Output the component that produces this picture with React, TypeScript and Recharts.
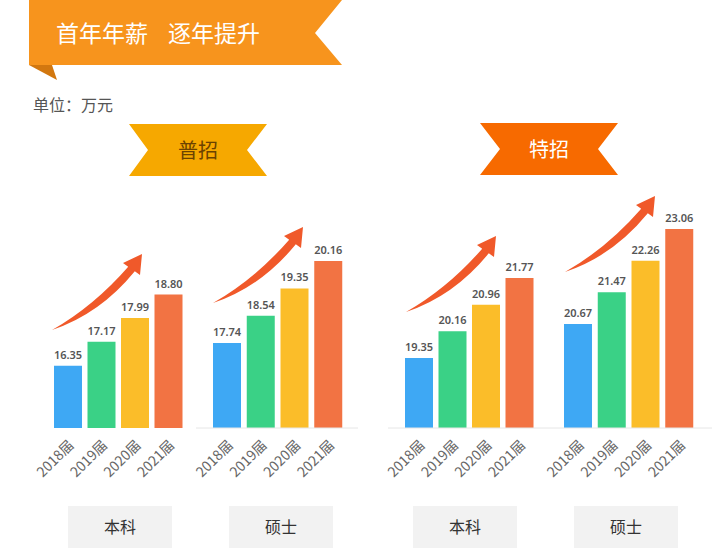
import React from 'react';
import { BarChart, Bar, XAxis, YAxis, Cell, LabelList } from 'recharts';

const categories = ['2018届', '2019届', '2020届', '2021届'];
const puBenke = [16.35, 17.17, 17.99, 18.8];
const puShuoshi = [17.74, 18.54, 19.35, 20.16];
const teBenke = [19.35, 20.16, 20.96, 21.77];
const teShuoshi = [20.67, 21.47, 22.26, 23.06];
const groupNames = ['本科', '硕士', '本科', '硕士'];
const barColors = ['#3EA8F4', '#3AD186', '#FBBD29', '#F27343'];

const CJK = '"Noto Sans CJK SC", "Noto Sans", sans-serif';

const Tick = (props: any) => {
  const { x, y, payload } = props;
  const tx = x + 7;
  const ty = y + 18;
  return (
    <text
      x={tx}
      y={ty}
      transform={`rotate(-45 ${tx} ${ty})`}
      textAnchor="end"
      fontSize={14}
      fill="#666"
      fontFamily={CJK}
    >
      {payload.value}
    </text>
  );
};

type GroupProps = {
  values: number[];
  domain: [number, number];
  margin: { left: number; right: number };
  padding: { left: number; right: number };
  axisLine: boolean;
};

const GroupChart = ({ values, domain, margin, padding, axisLine }: GroupProps) => {
  const data = categories.map((c, i) => ({ name: c, value: values[i] }));
  return (
    <div style={{ position: 'absolute', left: 0, top: 200 }}>
      <BarChart
        width={716}
        height={288}
        data={data}
        margin={{ top: 0, bottom: 0, left: margin.left, right: margin.right }}
      >
        <XAxis
          dataKey="name"
          axisLine={axisLine ? { stroke: '#E6E6E6', strokeWidth: 1 } : false}
          tickLine={false}
          tickSize={0}
          tickMargin={0}
          interval={0}
          height={60}
          padding={padding}
          tick={(p: any) => <Tick {...p} />}
        />
        <YAxis hide type="number" domain={domain} allowDataOverflow />
        <Bar dataKey="value" barSize={28} isAnimationActive={false}>
          {data.map((d, i) => (
            <Cell key={i} fill={barColors[i]} />
          ))}
          <LabelList
            dataKey="value"
            position="top"
            offset={7}
            formatter={(v: any) => Number(v).toFixed(2)}
            fill="#555"
            fontSize={11}
            fontWeight={600}
            fontFamily='"Noto Sans", sans-serif'
          />
        </Bar>
      </BarChart>
    </div>
  );
};

const arrowPath =
  'M0,0 Q48,-16 82.8,-58.7 L88,-55 L90,-76 L71,-67 L76.2,-63.3 Q42,-24 0,0 Z';
const arrowTails: [number, number][] = [
  [52, 330],
  [213, 303],
  [406, 312],
  [565, 272],
];
const boxLefts = [68, 229, 413, 574];

export default function App() {
  return (
    <div
      style={{
        position: 'absolute',
        left: 0,
        top: 0,
        width: 716,
        height: 548,
        background: '#fff',
        overflow: 'hidden',
        fontFamily: CJK,
      }}
    >
      <GroupChart
        values={puBenke}
        domain={[14.2, 22.06]}
        margin={{ left: 51, right: 531 }}
        padding={{ left: 0, right: 0 }}
        axisLine={false}
      />
      <GroupChart
        values={puShuoshi}
        domain={[15.23, 21.96]}
        margin={{ left: 196, right: 358 }}
        padding={{ left: 14, right: 13 }}
        axisLine={true}
      />
      <GroupChart
        values={teBenke}
        domain={[17.23, 24.13]}
        margin={{ left: 388, right: 168 }}
        padding={{ left: 14, right: 12 }}
        axisLine={true}
      />
      <GroupChart
        values={teShuoshi}
        domain={[18.05, 23.79]}
        margin={{ left: 548, right: 4 }}
        padding={{ left: 13, right: 16 }}
        axisLine={true}
      />
      <svg
        width={716}
        height={548}
        style={{ position: 'absolute', left: 0, top: 0, pointerEvents: 'none' }}
      >
        {/* title banner */}
        <polygon points="29,0 342,0 315,33 342,65 29,65" fill="#F7941D" />
        <polygon points="29,65 52,65 57,80" fill="#D2770F" />
        <text x={56} y={42} fontSize={23} fill="#fff" fontFamily={CJK}>
          首年年薪
        </text>
        <text x={168} y={42} fontSize={23} fill="#fff" fontFamily={CJK}>
          逐年提升
        </text>
        <text x={33} y={111} fontSize={16} fill="#555" fontFamily={CJK}>
          单位：万元
        </text>
        {/* ribbons */}
        <polygon points="129,124 267,124 247,150 267,176 129,176 148,150" fill="#F6A800" />
        <text x={198} y={158} fontSize={20} fill="#6B4200" textAnchor="middle" fontFamily={CJK}>
          普招
        </text>
        <polygon points="480,123 618,123 598,149 618,175 480,175 500,149" fill="#F76A00" />
        <text x={549} y={157} fontSize={20} fill="#fff" textAnchor="middle" fontFamily={CJK}>
          特招
        </text>
        {/* arrows */}
        {arrowTails.map(([x, y], i) => (
          <path key={i} d={arrowPath} transform={`translate(${x},${y})`} fill="#F0592A" />
        ))}
        {/* group boxes */}
        {boxLefts.map((x, i) => (
          <g key={i}>
            <rect x={x} y={506} width={104} height={42} fill="#F2F2F2" />
            <text x={x + 52} y={533} fontSize={16} fill="#333" textAnchor="middle" fontFamily={CJK}>
              {groupNames[i]}
            </text>
          </g>
        ))}
      </svg>
    </div>
  );
}
